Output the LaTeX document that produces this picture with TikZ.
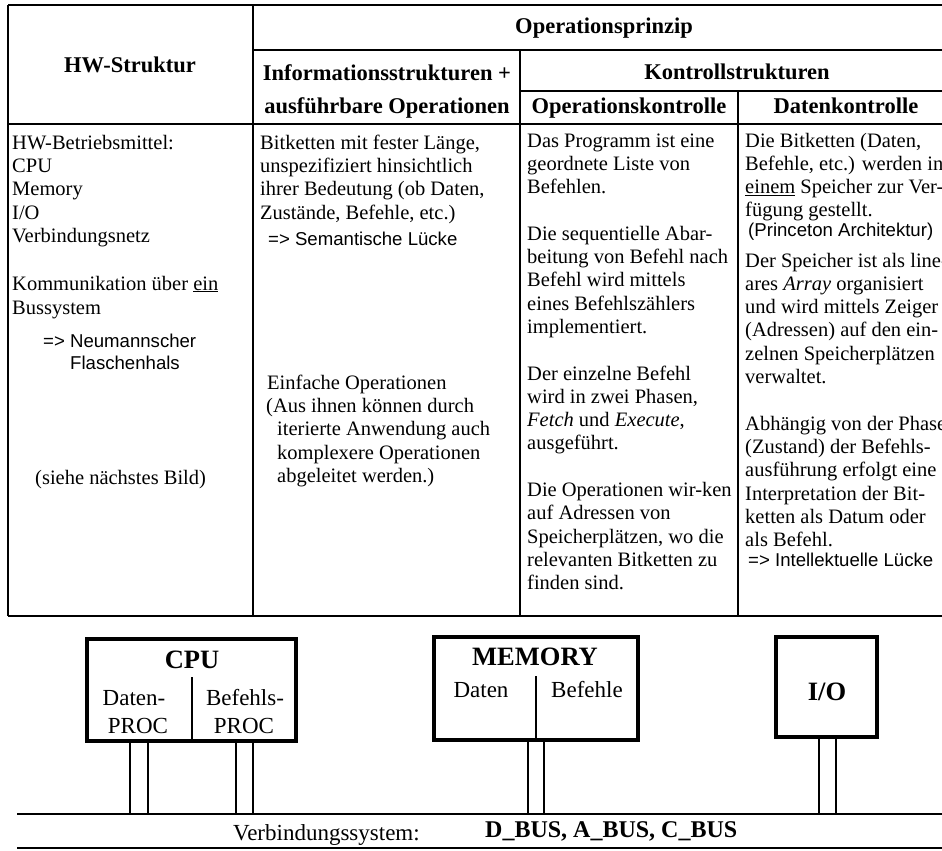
\documentclass[tikz,border=0pt]{standalone}
\usepackage{fontspec}
\setmainfont{Liberation Serif}
\newfontfamily\arialf{Liberation Sans}
\begin{document}
\begin{tikzpicture}[x=1pt,y=-1pt,
 grid/.style={line width=2.4pt},
 body/.style={anchor=base west, inner sep=0pt, font=\fontsize{20.5}{23}\selectfont},
 sans/.style={anchor=base west, inner sep=0pt, font=\arialf\fontsize{18.6}{22}\selectfont},
 hdr/.style={anchor=base, inner sep=0pt, font=\bfseries\fontsize{22.5}{24}\selectfont},
 unit/.style={draw, line width=4pt, outer sep=0pt, inner sep=0pt},
 ttl/.style={anchor=base, inner sep=0pt, font=\bfseries\fontsize{26.5}{28}\selectfont},
 lbl/.style={anchor=base, inner sep=0pt, font=\fontsize{23}{25}\selectfont},
 wire/.style={line width=1.6pt},
 sub/.style={line width=2pt}]
\fill[white] (0,0) rectangle (942,851);
\useasboundingbox (0,0) rectangle (942,851);
\clip (0,0) rectangle (942,851);
% table grid
\draw[grid] (8,5) -- (960,5);
\draw[grid] (253,50) -- (960,50);
\draw[grid] (520,91) -- (960,91);
\draw[grid] (8,124) -- (960,124);
\draw[grid] (8,616) -- (960,616);
\draw[grid] (8,5) -- (8,616);
\draw[grid] (253,5) -- (253,616);
\draw[grid] (520,50) -- (520,616);
\draw[grid] (738,91) -- (738,616);
% headers
\node[hdr] (hw) at (130,72) {HW-Struktur};
\node[hdr] (op) at (604,34) {Operationsprinzip};
\node[hdr] (inf1) at (387,81) {Informationsstrukturen +};
\node[hdr] (inf2) at (387,113) {ausführbare Operationen};
\node[hdr] (ks) at (737,79) {Kontrollstrukturen};
\node[hdr] (opk) at (629,113) {Operationskontrolle};
\node[hdr] (dk) at (846,113) {Datenkontrolle};
% column 1
\node[body] (a1) at (12,149) {HW-Betriebsmittel:};
\node[body] (a2) at (12,172.3) {CPU};
\node[body] (a3) at (12,195.6) {Memory};
\node[body] (a4) at (12,219) {I/O};
\node[body] (a5) at (12,242.2) {Verbindungsnetz};
\node[body] (a6) at (12,290) {Kommunikation über \underline{ein}};
\node[body] (a7) at (12,314) {Bussystem};
\node[sans] (a8) at (43,347) {=> Neumannscher};
\node[sans] (a9) at (70,369) {Flaschenhals};
\node[body] (a10) at (35,484) {(siehe nächstes Bild)};
% column 2
\node[body] (b1) at (260,149) {Bitketten mit fester Länge,};
\node[body] (b2) at (260,172.3) {unspezifiziert hinsichtlich};
\node[body] (b3) at (260,195.6) {ihrer Bedeutung (ob Daten,};
\node[body] (b4) at (260,219) {Zustände, Befehle, etc.)};
\node[sans] (b5) at (268,245) {=> Semantische Lücke};
\node[body] (b6) at (267,389) {Einfache Operationen};
\node[body] (b7) at (266,412) {(Aus ihnen können durch};
\node[body] (b8) at (277,435) {iterierte Anwendung auch};
\node[body] (b9) at (277,459) {komplexere Operationen};
\node[body] (b10) at (277,482) {abgeleitet werden.)};
% column 3
\node[body] (c1) at (527,147) {Das Programm ist eine};
\node[body] (c2) at (527,170.3) {geordnete Liste von};
\node[body] (c3) at (527,193.6) {Befehlen.};
\node[body] (c4) at (527,240.2) {Die sequentielle Abar-};
\node[body] (c5) at (527,263.5) {beitung von Befehl nach};
\node[body] (c6) at (527,286.8) {Befehl wird mittels};
\node[body] (c7) at (527,310.1) {eines Befehlszählers};
\node[body] (c8) at (527,333.4) {implementiert.};
\node[body] (c9) at (527,380) {Der einzelne Befehl};
\node[body] (c10) at (527,403.3) {wird in zwei Phasen,};
\node[body] (c11) at (527,426.6) {\textit{Fetch} und \textit{Execute},};
\node[body] (c12) at (527,449.9) {ausgeführt.};
\node[body] (c13) at (527,496.5) {Die Operationen wir-ken};
\node[body] (c14) at (527,519.8) {auf Adressen von};
\node[body] (c15) at (527,543.1) {Speicherplätzen, wo die};
\node[body] (c16) at (527,566.4) {relevanten Bitketten zu};
\node[body] (c17) at (527,589.7) {finden sind.};
% column 4
\node[body] (d1) at (745,147) {Die Bitketten (Daten,};
\node[body] (d2) at (745,170.3) {Befehle, etc.) werden in};
\node[body] (d3) at (745,193.6) {\underline{einem} Speicher zur Ver-};
\node[body] (d4) at (745,216.9) {fügung gestellt.};
\node[sans] (d5) at (748,236) {(Princeton Architektur)};
\node[body] (d6) at (745,267) {Der Speicher ist als line-};
\node[body] (d7) at (745,290.3) {ares \textit{Array} organisiert};
\node[body] (d8) at (745,313.6) {und wird mittels Zeiger};
\node[body] (d9) at (745,336.9) {(Adressen) auf den ein-};
\node[body] (d10) at (745,360.2) {zelnen Speicherplätzen};
\node[body] (d11) at (745,383.5) {verwaltet.};
\node[body] (d12) at (745,430.1) {Abhängig von der Phase};
\node[body] (d13) at (745,453.4) {(Zustand) der Befehls-};
\node[body] (d14) at (745,476.7) {ausführung erfolgt eine};
\node[body] (d15) at (745,500) {Interpretation der Bit-};
\node[body] (d16) at (745,523.3) {ketten als Datum oder};
\node[body] (d17) at (745,546.6) {als Befehl.};
\node[sans] (d18) at (748,566) {=> Intellektuelle Lücke};
% bottom units
\node[unit, minimum width=209pt, minimum height=102pt, anchor=north west] (cpu) at (87,639) {};
\node[unit, minimum width=204pt, minimum height=103pt, anchor=north west] (mem) at (434,637) {};
\node[unit, minimum width=101pt, minimum height=100pt, anchor=north west] (io) at (776,637) {};
\coordinate (cpudiv) at (192,677);
\coordinate (memdiv) at (536,676);
\draw[sub] (cpudiv) -- (cpudiv |- cpu.south);
\draw[sub] (memdiv) -- (memdiv |- mem.south);
\node[ttl] (cpulbl) at (192,668) {CPU};
\node[lbl] (dp1) at (134,705) {Daten-};
\node[lbl] (dp2) at (138,733) {PROC};
\node[lbl] (bp1) at (245,705) {Befehls-};
\node[lbl] (bp2) at (244,733) {PROC};
\node[ttl] (memlbl) at (535,665) {MEMORY};
\node[lbl] (md) at (481,697) {Daten};
\node[lbl] (mb) at (587,697) {Befehle};
\node[ttl] (iolbl) at (827,700) {I/O};
% bus
\coordinate (busL) at (17,814);
\coordinate (busR) at (942,814);
\coordinate (baseL) at (17,848);
\coordinate (baseR) at (942,848);
\draw[wire] (busL) -- (busR);
\draw[wire] (baseL) -- (baseR);
\foreach \x in {130,148,236,253} \draw[wire] (\x,0 |- cpu.south) -- (\x,0 |- busL);
\foreach \x in {528,544} \draw[wire] (\x,0 |- mem.south) -- (\x,0 |- busL);
\foreach \x in {819,836} \draw[wire] (\x,0 |- io.south) -- (\x,0 |- busL);
\node[lbl, anchor=base west] (vs) at (233,840) {Verbindungssystem:};
\node[anchor=base west, inner sep=0pt, font=\bfseries\fontsize{24}{26}\selectfont] (buses) at (485,837) {D\_BUS, A\_BUS, C\_BUS};
\end{tikzpicture}
\end{document}
